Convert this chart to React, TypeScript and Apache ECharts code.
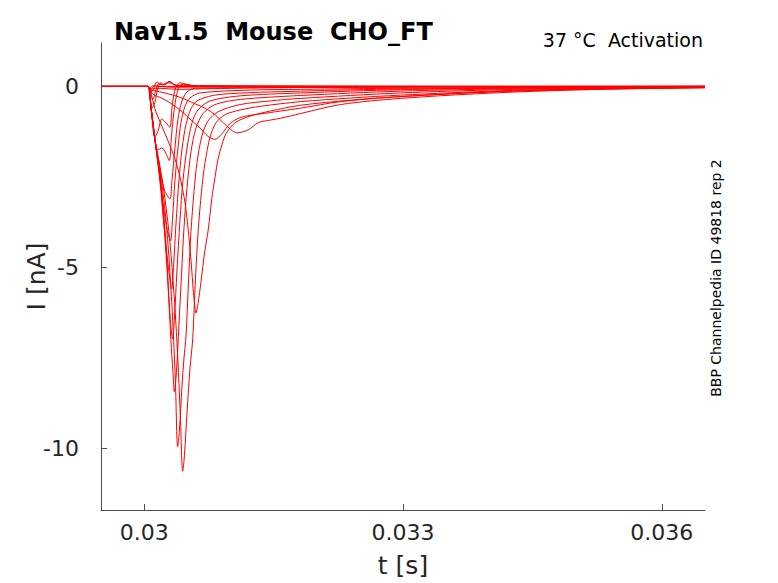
import React, { useEffect, useRef } from "react";
import * as echarts from "echarts";

// Time axis ticks (s) and current axis ticks (nA)
const xTicks = [0.03, 0.033, 0.036];
const yTicks = [-10, -5, 0];

// Current traces [t (s), I (nA)], one per voltage step
const sweep01 = [[0.0295, 0], [0.030043, 0], [0.030066, -0.04], [0.030101, 0.02], [0.030183, 0], [0.0365, 0]];
const sweep02 = [[0.0295, 0], [0.030043, 0], [0.030078, -0.06], [0.030124, 0.01], [0.030299, -0.02], [0.03181, -0.01], [0.0365, 0.01]];
const sweep03 = [[0.0295, 0], [0.030043, 0], [0.030078, -0.08], [0.030136, -0.05], [0.030415, -0.08], [0.030764, -0.06], [0.03181, -0.03], [0.0365, 0]];
const sweep04 = [[0.0295, 0], [0.030043, 0], [0.030078, -0.1], [0.030124, -0.12], [0.030241, -0.18], [0.030415, -0.3], [0.03059, -0.48], [0.030706, -0.6], [0.030822, -0.78], [0.030938, -1.05], [0.031078, -1.28], [0.031206, -1.2], [0.031322, -1.0], [0.031462, -0.93], [0.031578, -0.88], [0.03181, -0.75], [0.032276, -0.5], [0.032973, -0.33], [0.034136, -0.17], [0.035299, -0.08], [0.0365, -0.04]];
const sweep05 = [[0.0295, 0], [0.030043, 0], [0.030078, -0.15], [0.030124, -0.25], [0.030183, -0.3], [0.030299, -0.45], [0.030415, -0.65], [0.030531, -0.9], [0.030648, -1.15], [0.030741, -1.38], [0.030822, -1.46], [0.030903, -1.3], [0.030997, -1.02], [0.031113, -0.86], [0.031229, -0.8], [0.031345, -0.76], [0.031578, -0.68], [0.03181, -0.6], [0.032276, -0.42], [0.032973, -0.28], [0.034136, -0.14], [0.035299, -0.07], [0.0365, -0.03]];
const sweep06 = [[0.0295, 0], [0.030043, 0], [0.03009, -0.3], [0.030136, -0.7], [0.030206, -1.1], [0.030276, -1.5], [0.030357, -2.0], [0.030415, -2.5], [0.030473, -3.2], [0.030508, -3.9], [0.030543, -4.8], [0.030572, -5.7], [0.030601, -6.26], [0.030624, -6.0], [0.030659, -5.4], [0.0307, -4.6], [0.030744, -3.94], [0.030784, -3.1], [0.030822, -2.5], [0.030857, -2.0], [0.030903, -1.6], [0.03095, -1.3], [0.031055, -1.0], [0.031229, -0.82], [0.031462, -0.68], [0.03181, -0.52], [0.032392, -0.38], [0.032973, -0.28], [0.034136, -0.14], [0.035299, -0.07], [0.0365, -0.03]];
const sweep07 = [[0.0295, 0], [0.030043, 0], [0.030078, -0.55], [0.030124, -1.45], [0.030183, -2.2], [0.030241, -3.1], [0.030299, -4.3], [0.030345, -5.7], [0.030374, -6.8], [0.030398, -7.9], [0.030421, -9.2], [0.030447, -10.63], [0.030467, -10.2], [0.030497, -9.0], [0.030531, -7.8], [0.030563, -6.97], [0.030595, -5.3], [0.030628, -3.94], [0.030665, -2.9], [0.030706, -2.1], [0.030764, -1.4], [0.030834, -1.0], [0.030938, -0.78], [0.031113, -0.65], [0.031345, -0.55], [0.03181, -0.42], [0.032392, -0.32], [0.032973, -0.24], [0.034136, -0.12], [0.035299, -0.06], [0.0365, -0.02]];
const sweep08 = [[0.0295, 0], [0.030043, 0], [0.030078, -0.55], [0.030124, -1.45], [0.030183, -2.3], [0.030241, -3.4], [0.030281, -4.5], [0.030316, -5.8], [0.03034, -6.9], [0.030363, -8.2], [0.030388, -9.95], [0.030409, -9.5], [0.030438, -8.3], [0.030462, -7.5], [0.030485, -6.9], [0.030514, -5.4], [0.030543, -4.0], [0.030578, -2.9], [0.030613, -2.1], [0.030671, -1.35], [0.030741, -0.95], [0.030857, -0.7], [0.031113, -0.5], [0.031462, -0.4], [0.03181, -0.33], [0.032973, -0.18], [0.034136, -0.09], [0.035299, -0.05], [0.0365, -0.02]];
const sweep09 = [[0.0295, 0], [0.030043, 0], [0.030078, -0.55], [0.030124, -1.45], [0.030183, -2.4], [0.030229, -3.6], [0.030264, -4.8], [0.030293, -6.2], [0.03031, -7.0], [0.030334, -7.9], [0.030351, -8.44], [0.030374, -7.9], [0.030403, -6.6], [0.030433, -5.2], [0.030462, -3.9], [0.030497, -2.8], [0.030543, -1.8], [0.030601, -1.15], [0.030683, -0.75], [0.030822, -0.5], [0.031113, -0.36], [0.03181, -0.25], [0.032973, -0.13], [0.034136, -0.07], [0.0365, -0.02]];
const sweep10 = [[0.0295, 0], [0.030043, 0], [0.030078, -0.55], [0.030124, -1.45], [0.030183, -2.5], [0.030229, -3.8], [0.030264, -5.0], [0.030299, -6.3], [0.03033, -6.97], [0.030351, -6.4], [0.03038, -5.1], [0.030415, -3.7], [0.03045, -2.6], [0.030497, -1.7], [0.030555, -1.0], [0.030624, -0.65], [0.030764, -0.4], [0.031113, -0.26], [0.03181, -0.18], [0.032973, -0.09], [0.034136, -0.05], [0.0365, -0.01]];
const sweep11 = [[0.0295, 0], [0.030043, 0], [0.030078, -0.55], [0.030124, -1.45], [0.030183, -2.6], [0.030229, -3.8], [0.030276, -4.9], [0.030319, -5.6], [0.03034, -5.0], [0.030369, -3.8], [0.030403, -2.6], [0.030438, -1.75], [0.030485, -1.05], [0.030543, -0.62], [0.030624, -0.38], [0.03088, -0.22], [0.03181, -0.13], [0.032973, -0.07], [0.0365, -0.01]];
const sweep12 = [[0.0295, 0], [0.030043, 0], [0.030078, -0.55], [0.030124, -1.45], [0.030183, -2.55], [0.030241, -3.6], [0.030281, -4.1], [0.030307, -4.26], [0.030328, -3.7], [0.030357, -2.6], [0.030392, -1.7], [0.030427, -1.0], [0.030473, -0.55], [0.030531, -0.32], [0.030648, -0.18], [0.031229, -0.1], [0.03181, -0.08], [0.032973, -0.05], [0.0365, 0]];
const sweep13 = [[0.0295, 0], [0.030043, 0], [0.030078, -0.55], [0.030124, -1.45], [0.030183, -2.3], [0.030241, -2.9], [0.030299, -3.1], [0.030322, -2.6], [0.030357, -1.7], [0.030392, -0.9], [0.030438, -0.4], [0.030497, -0.15], [0.03059, -0.05], [0.03181, -0.03], [0.0365, 0]];
const sweep14 = [[0.0295, 0], [0.030043, 0], [0.030078, -0.55], [0.030124, -1.45], [0.030159, -1.75], [0.030206, -1.7], [0.030252, -1.85], [0.030291, -2.05], [0.030316, -1.4], [0.030345, -0.7], [0.03038, -0.2], [0.030427, 0.05], [0.030485, 0.05], [0.03059, 0], [0.0365, 0]];
const sweep15 = [[0.0295, 0], [0.030043, 0], [0.030078, -0.55], [0.030124, -1.4], [0.030159, -1.25], [0.030206, -0.9], [0.030252, -1.0], [0.030299, -1.13], [0.030322, -0.6], [0.030357, -0.1], [0.030415, 0.1], [0.030508, 0.05], [0.030648, 0], [0.0365, 0]];
const sweep16 = [[0.0295, 0], [0.030043, 0], [0.030066, -0.35], [0.03009, -0.6], [0.030124, -0.45], [0.030159, -0.05], [0.030194, 0.1], [0.030229, 0.05], [0.030264, 0.08], [0.030299, 0.13], [0.030345, 0.06], [0.030415, 0], [0.0365, 0]];
const sweep17 = [[0.0295, 0], [0.030043, 0], [0.030066, -0.25], [0.030101, -0.35], [0.030136, -0.1], [0.030171, 0.08], [0.030217, 0.04], [0.030252, 0.1], [0.030299, 0.1], [0.030369, 0.03], [0.0365, 0]];
const sweep18 = [[0.0295, 0], [0.030043, 0], [0.030066, -0.15], [0.030101, -0.1], [0.030148, 0.12], [0.030194, 0.06], [0.030241, 0.05], [0.030287, 0.14], [0.030345, 0.05], [0.030531, 0], [0.0365, 0]];

const sweeps = [
  sweep01, sweep02, sweep03, sweep04, sweep05, sweep06, sweep07, sweep08, sweep09,
  sweep10, sweep11, sweep12, sweep13, sweep14, sweep15, sweep16, sweep17, sweep18,
];

const FONT = "DejaVu Sans";

export default function App() {
  const ref = useRef<HTMLDivElement>(null);

  useEffect(() => {
    if (!ref.current) return;
    const chart = echarts.init(ref.current, null, { renderer: "svg" });
    const axisColor = "#4d4d4d";
    const textColor = "#262626";

    chart.setOption({
      animation: false,
      backgroundColor: "#ffffff",
      grid: { left: 101, top: 43, right: 73, bottom: 71, containLabel: false },
      xAxis: {
        type: "value",
        min: 0.0295,
        max: 0.0365,
        name: "t [s]",
        nameLocation: "middle",
        nameGap: 43,
        nameMoveOverlap: false,
        nameTextStyle: { fontFamily: FONT, fontSize: 25, color: textColor },
        axisLine: { show: true, onZero: false, lineStyle: { color: axisColor, width: 1 } },
        axisTick: { show: true, inside: true, length: 6, customValues: xTicks, lineStyle: { color: axisColor } },
        axisLabel: {
          show: true,
          customValues: xTicks,
          margin: 11,
          fontFamily: FONT,
          fontSize: 22,
          color: textColor,
          formatter: (v: number) => String(Number(v.toFixed(4))),
        },
        splitLine: { show: false },
      },
      yAxis: {
        type: "value",
        min: -11.7,
        max: 1.2,
        name: "I [nA]",
        nameLocation: "middle",
        nameGap: 52,
        nameMoveOverlap: false,
        nameTextStyle: { fontFamily: FONT, fontSize: 25, color: textColor },
        axisLine: { show: true, onZero: false, lineStyle: { color: axisColor, width: 1 } },
        axisTick: { show: true, inside: true, length: 6, customValues: yTicks, lineStyle: { color: axisColor } },
        axisLabel: {
          show: true,
          customValues: yTicks,
          margin: 22,
          fontFamily: FONT,
          fontSize: 22,
          color: textColor,
          formatter: (v: number) => String(Math.round(v)),
        },
        splitLine: { show: false },
      },
      graphic: [
        {
          type: "text",
          left: 114,
          top: 20,
          style: {
            text: "Nav1.5  Mouse  CHO_FT",
            fontFamily: FONT,
            fontSize: 24,
            fontWeight: "bold",
            fill: "#000000",
          },
        },
        {
          type: "text",
          right: 75,
          top: 30,
          style: {
            text: "37 °C  Activation",
            fontFamily: FONT,
            fontSize: 19,
            fill: "#000000",
          },
        },
        {
          type: "text",
          x: 716,
          y: 278,
          rotation: Math.PI / 2,
          style: {
            text: "BBP Channelpedia ID 49818 rep 2",
            fontFamily: FONT,
            fontSize: 14,
            fill: "#000000",
            align: "center",
            verticalAlign: "middle",
          },
        },
      ],
      series: sweeps.map((d, i) => ({
        name: "sweep" + (i + 1),
        type: "line",
        data: d,
        symbol: "none",
        showSymbol: false,
        smooth: 0.3,
        silent: true,
        lineStyle: { color: "#ff0000", width: 1 },
      })),
    });

    return () => chart.dispose();
  }, []);

  return (
    <div
      ref={ref}
      style={{ position: "fixed", left: 0, top: 0, width: 778, height: 583, background: "#fff" }}
    />
  );
}
